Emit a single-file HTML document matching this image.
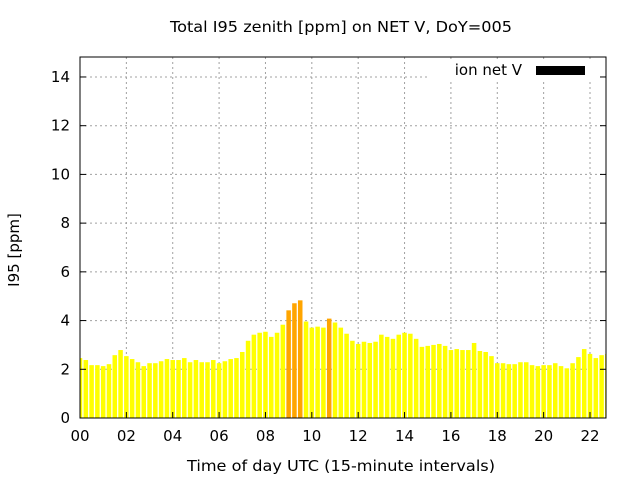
<!DOCTYPE html>
<html><head><meta charset="utf-8"><style>
body{margin:0;background:#fff}
text{font-family:"DejaVu Sans","Liberation Sans",sans-serif;font-size:15px;fill:#000}
</style></head><body>
<svg id="chart" width="640" height="480" viewBox="0 0 640 480">
<rect width="640" height="480" fill="#fff"/>
<text x="341" y="32" text-anchor="middle" textLength="342" lengthAdjust="spacingAndGlyphs">Total I95 zenith [ppm] on NET V, DoY=005</text>
<text transform="translate(19,250) rotate(-90)" text-anchor="middle">I95 [ppm]</text>
<text x="341" y="471" text-anchor="middle" textLength="308" lengthAdjust="spacingAndGlyphs">Time of day UTC (15-minute intervals)</text>
<g id="grid"></g><g id="bars"></g><g id="axes"></g>
<rect x="430" y="60" width="170" height="20" fill="#fff"/>
<text x="522" y="75" text-anchor="end">ion net V</text>
<rect x="536" y="66" width="49" height="9" fill="#000"/>
</svg>
<script>
const values=[2.46,2.38,2.17,2.17,2.13,2.21,2.58,2.79,2.54,2.42,2.29,2.13,2.25,2.25,2.33,2.42,2.38,2.38,2.46,2.29,2.38,2.29,2.29,2.38,2.25,2.33,2.42,2.46,2.71,3.17,3.42,3.5,3.54,3.33,3.5,3.83,4.42,4.71,4.83,3.96,3.71,3.75,3.71,4.08,3.92,3.71,3.46,3.17,3.04,3.13,3.08,3.13,3.42,3.33,3.25,3.42,3.5,3.46,3.25,2.92,2.96,3.0,3.04,2.96,2.79,2.83,2.79,2.79,3.08,2.75,2.71,2.54,2.25,2.25,2.21,2.21,2.29,2.29,2.17,2.13,2.17,2.17,2.25,2.13,2.04,2.25,2.5,2.83,2.63,2.46,2.58,2.63];
const yTicks=[0,2,4,6,8,10,12,14];
const xTicks=["00","02","04","06","08","10","12","14","16","18","20","22"];
const threshold=4;
const L=80,R=606,T=57,B=418,xMax=22.69,yMax=14.82;
const sx=h=>L+(R-L)*h/xMax, sy=v=>B-(B-T)*v/yMax;
const NS="http://www.w3.org/2000/svg";
function mk(tag,at,parent){const e=document.createElementNS(NS,tag);for(const k in at)e.setAttribute(k,at[k]);document.getElementById(parent).appendChild(e);return e;}
yTicks.forEach(v=>{
 if(v>0){const g=mk('line',{x1:L,x2:R,y1:sy(v),y2:sy(v),stroke:'#a0a0a0','stroke-dasharray':'2,3'},'grid');
 
 }
 const t=mk('line',{x1:L,x2:L+6,y1:sy(v),y2:sy(v),stroke:'#000'},'axes');
 
 
 const t2=mk('line',{x1:R-6,x2:R,y1:sy(v),y2:sy(v),stroke:'#000'},'axes');
 
 
 const tx=mk('text',{x:L-10,y:sy(v)+5,'text-anchor':'end'},'axes');tx.textContent=v;
 
 
});
xTicks.forEach((s,i)=>{const h=i*2,x=sx(h);
 if(h>0){const g=mk('line',{x1:x,x2:x,y1:T,y2:B,stroke:'#a0a0a0','stroke-dasharray':'2,3'},'grid');
 
 }
 const t=mk('line',{x1:x,x2:x,y1:B,y2:B-6,stroke:'#000'},'axes');
 
 
 const tx=mk('text',{x:x,y:B+23,'text-anchor':'middle'},'axes');tx.textContent=s;
 
 
});
values.forEach((v,i)=>{const c=i*0.25,w=(sx(0.25)-sx(0))*0.78;
 let x0=Math.max(L,sx(c)-w/2),x1=Math.min(R,sx(c)+w/2);
 const b=mk('rect',{x:x0,y:sy(v),width:Math.max(0,x1-x0),height:B-sy(v),fill:v>threshold?'#ffa500':'#ffff00'},'bars');
 
 
});
const f=mk('rect',{x:L,y:T,width:R-L,height:B-T,fill:'none',stroke:'#000','stroke-width':1},'axes');


</script>
</body></html>
